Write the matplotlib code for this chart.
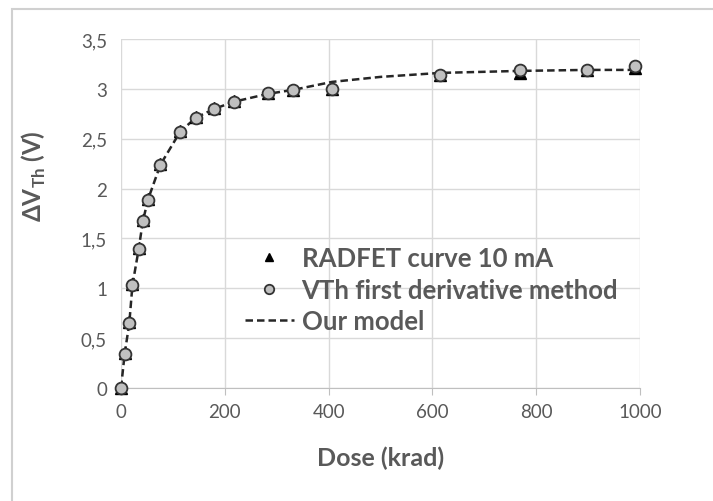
import numpy as np
import matplotlib
matplotlib.use("Agg")
import matplotlib.pyplot as plt
from matplotlib.patches import Rectangle

# data
dose = [0, 7, 16, 22, 34, 42, 52, 76, 114, 144, 180, 217, 283, 332, 407, 615, 769, 897, 990]
vth_deriv = [0, 0.34, 0.65, 1.03, 1.39, 1.67, 1.89, 2.24, 2.57, 2.71, 2.80, 2.87, 2.96, 2.99, 3.00, 3.14, 3.19, 3.19, 3.23]
radfet = [0, 0.35, 0.66, 1.04, 1.40, 1.68, 1.90, 2.25, 2.58, 2.72, 2.81, 2.88, 2.96, 2.99, 3.00, 3.14, 3.16, 3.19, 3.21]

model_dose = [0, 7, 16, 22, 34, 42, 52, 76, 114, 144, 180, 217, 283, 332, 407, 500, 615, 769, 897, 1000]
model_v = [0, 0.34, 0.65, 1.03, 1.39, 1.67, 1.89, 2.24, 2.57, 2.71, 2.80, 2.87, 2.95, 2.99, 3.07, 3.12, 3.16, 3.18, 3.19, 3.19]

xticks = [0, 200, 400, 600, 800, 1000]
yticks = [0, 0.5, 1, 1.5, 2, 2.5, 3, 3.5]
ytick_labels = ["0", "0,5", "1", "1,5", "2", "2,5", "3", "3,5"]

grey_txt = "#595959"
plt.rcParams['font.family'] = ['Lato', 'DejaVu Sans']
plt.rcParams['mathtext.fontset'] = 'custom'
plt.rcParams['mathtext.bf'] = 'Lato:bold'
plt.rcParams['mathtext.rm'] = 'Lato'

fig = plt.figure(figsize=(7.13, 5.02), dpi=100)
fig.patches.append(Rectangle((12/713, -0.1), 1.2, 1 - 10/502 + 0.1, transform=fig.transFigure,
                             fill=False, edgecolor="#d0d0d0", lw=1.5))
ax = fig.add_axes([121/713, 1 - 389/502, 519/713, 349/502])

ax.plot(model_dose, model_v, ls=(0, (3, 1.6)), color="#262626", lw=1.8, label="Our model", zorder=2)
ax.plot(dose, radfet, ls="none", marker="^", ms=8, color="black", label="RADFET curve 10 mA",
        zorder=3, clip_on=False)
ax.plot(dose, vth_deriv, ls="none", marker="o", ms=8.5, mfc="#c0c0c0", mec="#333333", mew=1.3,
        label="VTh first derivative method", zorder=4, clip_on=False)

ax.set_xlim(0, 1000)
ax.set_ylim(0, 3.5)
ax.set_xticks(xticks)
ax.set_yticks(yticks)
ax.set_yticklabels(ytick_labels)
ax.grid(True, color="#d9d9d9", lw=1)
ax.set_axisbelow(True)
for s in ["top", "right", "left"]:
    ax.spines[s].set_visible(False)
ax.spines["bottom"].set_color("#bfbfbf")
ax.tick_params(axis="x", colors="#bfbfbf", length=5, labelcolor=grey_txt, labelsize=13.5, pad=6)
ax.tick_params(axis="y", length=0, labelcolor=grey_txt, labelsize=13.5, pad=10)

ax.set_xlabel("Dose (krad)", fontsize=18, fontweight="bold", color=grey_txt)
ax.xaxis.set_label_coords(0.5, -0.165)
ax.set_ylabel(r"ΔV$_{\mathbf{Th}}$ (V)", fontsize=17.5, fontweight="bold", color=grey_txt)
ax.yaxis.set_label_coords(-0.14, 0.61)

h, l = ax.get_legend_handles_labels()
order = [1, 2, 0]
leg = ax.legend([h[i] for i in order], [l[i] for i in order], loc="upper left",
                bbox_to_anchor=((245 - 121) / 519, (389 - 247) / 349), frameon=False,
                borderpad=0, borderaxespad=0, handlelength=1.9, handletextpad=0.3,
                labelspacing=0.3, markerscale=0.8, prop={"size": 18.5, "weight": "bold"})
for t in leg.get_texts():
    t.set_color(grey_txt)

fig.savefig("out.png", dpi=100)
